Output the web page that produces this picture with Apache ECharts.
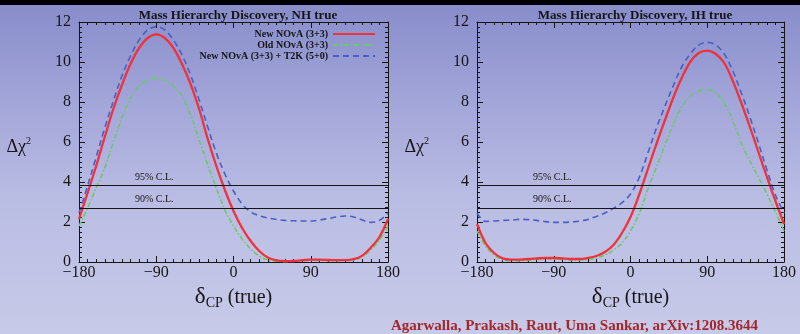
<!DOCTYPE html>
<html>
<head>
<meta charset="utf-8">
<script src="https://cdn.jsdelivr.net/npm/echarts@6/dist/echarts.min.js"></script>
<style>
html,body{margin:0;padding:0;width:800px;height:334px;overflow:hidden;
background:linear-gradient(180deg,#000 0px,#000 5px,#888dcb 5px,#a2a5d8 30%,#babde3 60%,#c8cae9 100%);}
#c{width:800px;height:334px;}
</style>
</head>
<body>
<div id="c"></div>
<script>
// ---- data ----
const delta = [-180,-170,-160,-150,-140,-130,-120,-110,-100,-90,-80,-70,-60,-50,-40,-30,-20,-10,0,10,20,30,40,50,60,70,80,90,100,110,120,130,140,150,160,170,180];

// NH true
const nhNew = [2.15,3.45,4.8,6.25,7.65,8.85,9.9,10.7,11.2,11.38,11.2,10.7,9.9,8.9,7.65,6.15,4.8,3.6,2.55,1.7,1.05,0.55,0.22,0.08,0.04,0.05,0.09,0.12,0.12,0.1,0.09,0.09,0.14,0.32,0.72,1.25,2.15];
const nhOld = [1.8,2.7,3.7,4.7,6.0,7.2,8.2,8.8,9.1,9.18,9.1,8.8,8.3,7.35,6.1,4.85,3.7,2.6,1.8,1.15,0.65,0.3,0.1,0.04,0.02,0.03,0.06,0.08,0.08,0.07,0.06,0.06,0.1,0.26,0.6,1.1,1.8];
const nhT2K = [2.45,3.8,5.25,6.7,8.05,9.3,10.3,11.1,11.6,11.77,11.6,11.1,10.35,9.35,8.1,6.75,5.45,4.4,3.55,2.9,2.5,2.32,2.2,2.13,2.08,2.06,2.05,2.05,2.1,2.17,2.25,2.3,2.25,2.1,1.98,2.08,2.45];

// IH true
const ihNew = [1.9,0.95,0.45,0.18,0.12,0.12,0.15,0.18,0.2,0.2,0.18,0.15,0.15,0.2,0.3,0.5,0.85,1.45,2.25,3.35,4.6,5.85,7.05,8.2,9.2,10.0,10.45,10.57,10.4,9.95,9.05,7.95,6.75,5.5,4.25,3.05,1.9];
const ihOld = [1.55,0.8,0.35,0.12,0.05,0.05,0.08,0.12,0.15,0.15,0.12,0.1,0.1,0.12,0.2,0.35,0.6,0.95,1.55,2.4,3.6,4.7,5.8,6.85,7.75,8.3,8.55,8.63,8.45,7.95,7.05,5.95,5.05,4.25,3.4,2.5,1.55];
const ihT2K = [2.45,2.03,2.05,2.08,2.1,2.13,2.12,2.08,2.02,1.98,1.98,2.0,2.04,2.13,2.28,2.45,2.68,2.97,3.4,4.2,5.4,6.65,7.75,8.8,9.75,10.4,10.85,10.98,10.85,10.4,9.55,8.45,7.25,5.95,4.6,3.35,2.45];

const seriesNames = ['New NOvA (3+3)','Old NOvA (3+3)','New NOvA (3+3) + T2K (5+0)'];
const panelTitles = ['Mass Hierarchy Discovery, NH true','Mass Hierarchy Discovery, IH true'];
const clValues = [3.84, 2.71];
const clLabels = ['95% C.L.','90% C.L.'];
const citation = 'Agarwalla, Prakash, Raut, Uma Sankar, arXiv:1208.3644';

// ---- styling ----
const SERIF = '"Liberation Serif","DejaVu Serif",serif';
const RED = '#f0323c', GREEN = '#6cc86a', BLUE = '#4a5fc4', INK = '#151515';

function pairs(ys){ return delta.map((d,i)=>[d, ys[i]]); }

function xAx(g, pos, labels){
  return {
    type:'value', gridIndex:g, position:pos, min:-180, max:180, interval:90,
    axisLine:{show:true, onZero:false, lineStyle:{color:INK, width:1}},
    axisTick:{show:true, inside:true, length:6, lineStyle:{color:INK}},
    minorTick:{show:true, splitNumber:9, length:3, lineStyle:{color:INK}},
    splitLine:{show:false},
    axisLabel:{show:labels, margin:3, color:INK, fontFamily:SERIF, fontSize:16,
      formatter:v=>String(v).replace('-', '\u2212')},
    name: labels ? '{d|δ}{s|CP}{t| (true)}' : '',
    nameLocation:'middle', nameGap:22,
    nameTextStyle:{ rich:{
      d:{fontFamily:SERIF, fontSize:23, color:INK, lineHeight:26},
      s:{fontFamily:SERIF, fontSize:14, color:INK, verticalAlign:'bottom', lineHeight:14},
      t:{fontFamily:SERIF, fontSize:20, color:INK, lineHeight:26}
    }}
  };
}
function yAx(g, pos, labels){
  return {
    type:'value', gridIndex:g, position:pos, min:0, max:12, interval:2,
    axisLine:{show:true, onZero:false, lineStyle:{color:INK, width:1}},
    axisTick:{show:true, inside:true, length:6, lineStyle:{color:INK}},
    minorTick:{show:true, splitNumber:8, length:3, lineStyle:{color:INK}},
    splitLine:{show:false},
    axisLabel:{show:labels, margin:8, color:INK, fontFamily:SERIF, fontSize:16},
    name: labels ? '{a|Δχ}{s|2}' : '',
    nameLocation:'middle', nameRotate:0, nameGap:48,
    nameTextStyle:{ padding:[10,0,0,0], rich:{
      a:{fontFamily:SERIF, fontSize:18, color:INK, lineHeight:22},
      s:{fontFamily:SERIF, fontSize:10, color:INK, verticalAlign:'top', lineHeight:10}
    }}
  };
}

function panelSeries(g, newV, oldV, t2kV){
  return [
    {type:'line', name:seriesNames[1], xAxisIndex:2*g, yAxisIndex:2*g, data:pairs(oldV),
     symbol:'none', smooth:0.35, z:2, itemStyle:{color:GREEN},
     lineStyle:{color:GREEN, width:1.6, type:[5,2,1.5,2]},
     markLine:{silent:true, symbol:'none', animation:false,
       lineStyle:{color:INK, width:1, type:'solid'},
       label:{position:'insideStartTop', distance:[56,3], formatter:p=>p.name,
         color:INK, fontFamily:SERIF, fontSize:10},
       data: clValues.map((v,i)=>({name:clLabels[i], yAxis:v}))}},
    {type:'line', name:seriesNames[0], xAxisIndex:2*g, yAxisIndex:2*g, data:pairs(newV),
     symbol:'none', smooth:0.35, z:3, itemStyle:{color:RED},
     lineStyle:{color:RED, width:2.3, type:'solid'}},
    {type:'line', name:seriesNames[2], xAxisIndex:2*g, yAxisIndex:2*g, data:pairs(t2kV),
     symbol:'none', smooth:0.35, z:4, itemStyle:{color:BLUE},
     lineStyle:{color:BLUE, width:1.6, type:[6,4]}}
  ];
}

function legendRow(name, top){
  return {show:true, data:[name], right:424, top:top, orient:'horizontal', align:'right',
    itemWidth:42, itemHeight:10, padding:0, selectedMode:false,
    itemStyle:{color:'rgba(0,0,0,0)', borderColor:'rgba(0,0,0,0)', borderWidth:0, opacity:0},
    textStyle:{fontFamily:SERIF, fontSize:10, fontWeight:'bold', color:INK}};
}

const chart = echarts.init(document.getElementById('c'), null, {renderer:'canvas'});
chart.setOption({
  animation:false,
  backgroundColor:'transparent',
  title:[
    {text:panelTitles[0], left:233, top:4, textAlign:'center',
     textStyle:{fontFamily:SERIF, fontSize:13, fontWeight:'bold', color:INK}},
    {text:panelTitles[1], left:630, top:4, textAlign:'center',
     textStyle:{fontFamily:SERIF, fontSize:13, fontWeight:'bold', color:INK}},
    {text:citation, right:37, top:314,
     textStyle:{fontFamily:SERIF, fontSize:15, fontWeight:'bold', color:'#a3272a'}}
  ],
  legend:[ legendRow(seriesNames[0],29), legendRow(seriesNames[1],40), legendRow(seriesNames[2],51) ],
  grid:[
    {left:79, top:22, width:309, height:240},
    {left:477, top:22, width:307, height:240}
  ],
  xAxis:[ xAx(0,'bottom',true), xAx(0,'top',false), xAx(1,'bottom',true), xAx(1,'top',false) ],
  yAxis:[ yAx(0,'left',true), yAx(0,'right',false), yAx(1,'left',true), yAx(1,'right',false) ],
  series:[ ...panelSeries(0, nhNew, nhOld, nhT2K), ...panelSeries(1, ihNew, ihOld, ihT2K) ]
});
</script>
</body>
</html>
